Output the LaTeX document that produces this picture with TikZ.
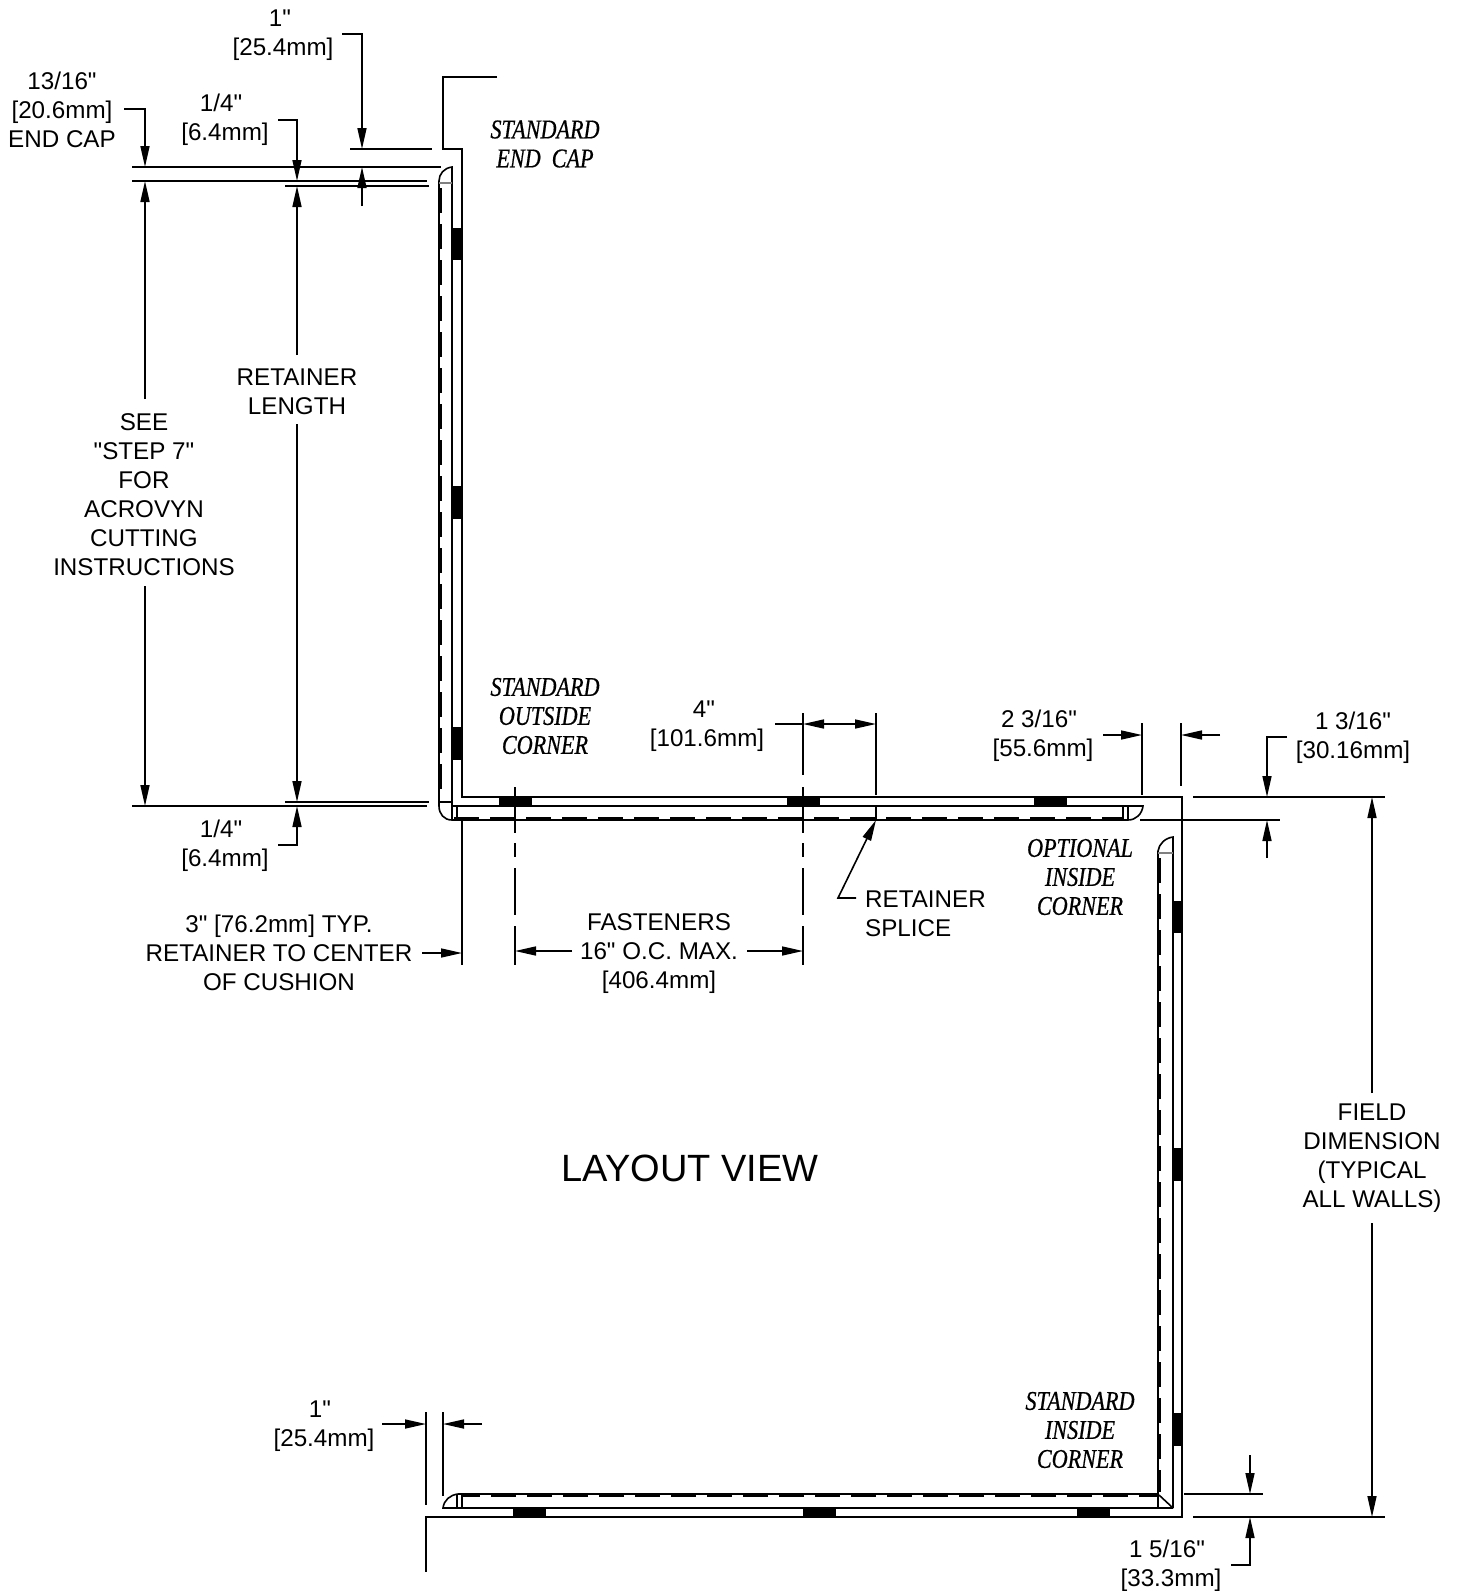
\documentclass[tikz,border=0pt]{standalone}
\usepackage{fontspec}
\setmainfont{Liberation Sans}[Ligatures=TeXOff]
\newfontfamily\notefont[FakeStretch=0.82, FakeBold=0.6]{Liberation Serif}
\usetikzlibrary{arrows.meta}

\begin{document}
\begin{tikzpicture}[x=1pt, y=-1pt,
    wall/.style={line width=2pt},
    thinline/.style={line width=1.6pt},
    extline/.style={line width=1.6pt},
    dim/.style={line width=1.6pt, -{Triangle[length=21pt, width=9pt]}},
    dimboth/.style={line width=1.6pt, {Triangle[length=21pt, width=9pt]}-{Triangle[length=21pt, width=9pt]}},
    hidden/.style={line width=2.6pt, dash pattern=on 25pt off 11pt},
    centerline/.style={line width=1.6pt, dash pattern=on 46pt off 10pt on 14pt off 11pt on 47pt off 11pt on 40pt off 20pt},
    label/.style={font=\fontsize{24.2}{29}\selectfont, align=center, inner sep=0pt},
    note/.style={font=\notefont\itshape\fontsize{27}{29}\selectfont, align=center, inner sep=0pt}]
    \useasboundingbox (0, 0) rectangle (1459, 1591); % bounding box

    % walls
    \draw [wall] (497, 77) -- (443, 77) -- (443, 149) -- (462, 149) -- (462, 797) -- (1182, 797) -- (1182, 1517) -- (426, 1517) -- (426, 1572);

    % retainer, upper wall
    \draw [thinline] (452, 820) -- (452, 167) .. controls (444, 168) and (439, 174) .. (439, 181) -- (439, 806) .. controls (439, 814) and (444, 820) .. (452, 820);
    \draw [thinline, gray] (439, 183) -- (452, 183);
    \draw [thinline] (439, 802) -- (452, 802);
    \draw [hidden] (441, 188) -- (441, 800);

    % retainer, middle wall
    \draw [thinline] (452, 806) -- (1143, 806) .. controls (1142, 814) and (1136, 820) .. (1128, 820) -- (452, 820);
    \draw [thinline] (457, 806) -- (457, 820);
    \draw [thinline] (1123, 806) -- (1123, 820);
    \draw [thinline] (1128, 806) -- (1128, 820);
    \draw [hidden] (454, 818) -- (1123, 818);

    % retainer, right wall
    \draw [thinline] (1173, 1508) -- (1173, 837) .. controls (1165, 838) and (1159, 844) .. (1158, 851) -- (1158, 1508);
    \draw [thinline, gray] (1158, 853) -- (1173, 853);
    \draw [hidden] (1160, 858) -- (1160, 1492);
    \draw [thinline] (1159, 1495) -- (1173, 1508);

    % retainer, lower wall
    \draw [thinline] (1173, 1508) -- (443, 1508) .. controls (444, 1500) and (450, 1495) .. (458, 1494) -- (1158, 1494);
    \draw [thinline] (457, 1494) -- (457, 1508);
    \draw [thinline] (462, 1494) -- (462, 1508);
    \draw [hidden, dash phase=7pt] (462, 1496) -- (1157, 1496);

    % fasteners
    \fill (451,  228) rectangle (462,  260);
    \fill (451,  486) rectangle (462,  519);
    \fill (451,  727) rectangle (462,  760);
    \fill (499,  797) rectangle (532,  807);
    \fill (787,  797) rectangle (820,  807);
    \fill (1034, 797) rectangle (1067, 807);
    \fill (1172, 901) rectangle (1182, 933);
    \fill (1172, 1148) rectangle (1182, 1181);
    \fill (1172, 1413) rectangle (1182, 1446);
    \fill (513,  1508) rectangle (546,  1518);
    \fill (803,  1508) rectangle (836,  1518);
    \fill (1077, 1508) rectangle (1110, 1518);

    % extension lines
    \draw [extline] (350,  149) -- (432,  149);
    \draw [extline] (132,  167) -- (441,  167);
    \draw [extline] (132,  181) -- (427,  181);
    \draw [extline] (285,  186) -- (429,  186);
    \draw [extline] (285,  802) -- (429,  802);
    \draw [extline] (132,  806) -- (427,  806);
    \draw [extline] (462,  820) -- (462,  965);
    \draw [extline] (876,  713) -- (876,  795);
    \draw [extline] (876,  806) -- (876,  820);
    \draw [extline] (1142, 723) -- (1142, 795);
    \draw [extline] (1181, 723) -- (1181, 786);
    \draw [extline] (1193, 797) -- (1385, 797);
    \draw [extline] (1140, 820) -- (1280, 820);
    \draw [extline] (1184, 1494) -- (1263, 1494);
    \draw [extline] (1193, 1517) -- (1385, 1517);
    \draw [extline] (426,  1412) -- (426,  1505);
    \draw [extline] (443,  1412) -- (443,  1496);

    % fastener center lines
    \draw [centerline] (515, 787) -- (515, 965);
    \draw [centerline] (803, 787) -- (803, 965);
    \draw [extline] (803, 713) -- (803, 775);

    % labels
    \begin{scope}[every node/.style={label}]
        \node at (283,  35)   (enddepth)  {1"\hspace{6pt}\null\\{}[25.4mm]};
        \node at (62,   110)  (capdepth)  {13/16"\\{}[20.6mm]\\END CAP};
        \node at (225,  120)  (topgap)    {1/4"\hspace{8pt}\null\\{}[6.4mm]};
        \node at (144,  495)  (see)       {SEE\\"STEP 7"\\FOR\\ACROVYN\\CUTTING\\INSTRUCTIONS};
        \node at (297,  392)  (length)    {RETAINER\\LENGTH};
        \node at (225,  846)  (botgap)    {1/4"\hspace{8pt}\null\\{}[6.4mm]};
        \node at (279,  953)  (typ)       {3" [76.2mm] TYP.\\RETAINER TO CENTER\\OF CUSHION};
        \node at (659,  954)  (fasteners) {FASTENERS\\16" O.C. MAX.\\{}[406.4mm]};
        \node at (707,  726)  (spacing)   {4"\hspace{6pt}\null\\{}[101.6mm]};
        \node at (1043, 736)  (inside)    {2 3/16"\hspace{8pt}\null\\{}[55.6mm]};
        \node at (1353, 738)  (outside)   {1 3/16"\\{}[30.16mm]};
        \node at (865,  914)  [anchor=west, align=left] (splice) {RETAINER\\SPLICE};
        \node at (1372, 1158) (field)     {FIELD\\DIMENSION\\(TYPICAL\\ALL WALLS)};
        \node at (324,  1426) (startgap)  {1"\hspace{8pt}\null\\{}[25.4mm]};
        \node at (1171, 1566) (bottom)    {1 5/16"\hspace{8pt}\null\\{}[33.3mm]};
        \node at (690,  1168) [font=\fontsize{38}{44}\selectfont] (title) {LAYOUT VIEW};
    \end{scope}

    % notes
    \begin{scope}[every node/.style={note}]
        \node at (545,  144)  (endcap)   {STANDARD\\END\ \ CAP};
        \node at (545,  716)  (outcorner) {STANDARD\\OUTSIDE\\CORNER};
        \node at (1080, 877)  (optcorner) {OPTIONAL\\INSIDE\\CORNER};
        \node at (1080, 1430) (incorner)  {STANDARD\\INSIDE\\CORNER};
    \end{scope}

    % dimension arrows
    \draw [dim] (342,  34)   -- (362,  34)   -- (362,  149);
    \draw [dim] (362,  206)  -- (362,  167);
    \draw [dim] (124,  109)  -- (145,  109)  -- (145,  167);
    \draw [dim] (145,  399)  -- (145,  181);
    \draw [dim] (145,  586)  -- (145,  806);
    \draw [dim] (278,  120)  -- (297,  120)  -- (297,  181);
    \draw [dim] (297,  355)  -- (297,  186);
    \draw [dim] (297,  424)  -- (297,  802);
    \draw [dim] (278,  845)  -- (297,  845)  -- (297,  806);
    \draw [dim] (422,  953)  -- (462,  953);
    \draw [dim] (572,  951)  -- (515,  951);
    \draw [dim] (747,  951)  -- (803,  951);
    \draw [extline] (775, 724) -- (803, 724);
    \draw [dimboth] (803, 724) -- (876, 724);
    \draw [dim] (856,  898)  -- (838,  898)  -- (876,  820);
    \draw [dim] (1103, 735)  -- (1142, 735);
    \draw [dim] (1220, 735)  -- (1181, 735);
    \draw [dim] (1287, 737)  -- (1267, 737)  -- (1267, 797);
    \draw [dim] (1267, 858)  -- (1267, 820);
    \draw [dim] (1372, 1093) -- (1372, 797);
    \draw [dim] (1372, 1223) -- (1372, 1517);
    \draw [dim] (1250, 1455) -- (1250, 1494);
    \draw [dim] (1231, 1565) -- (1250, 1565) -- (1250, 1517);
    \draw [dim] (382,  1424) -- (426,  1424);
    \draw [dim] (482,  1424) -- (443,  1424);
\end{tikzpicture}
\end{document}
